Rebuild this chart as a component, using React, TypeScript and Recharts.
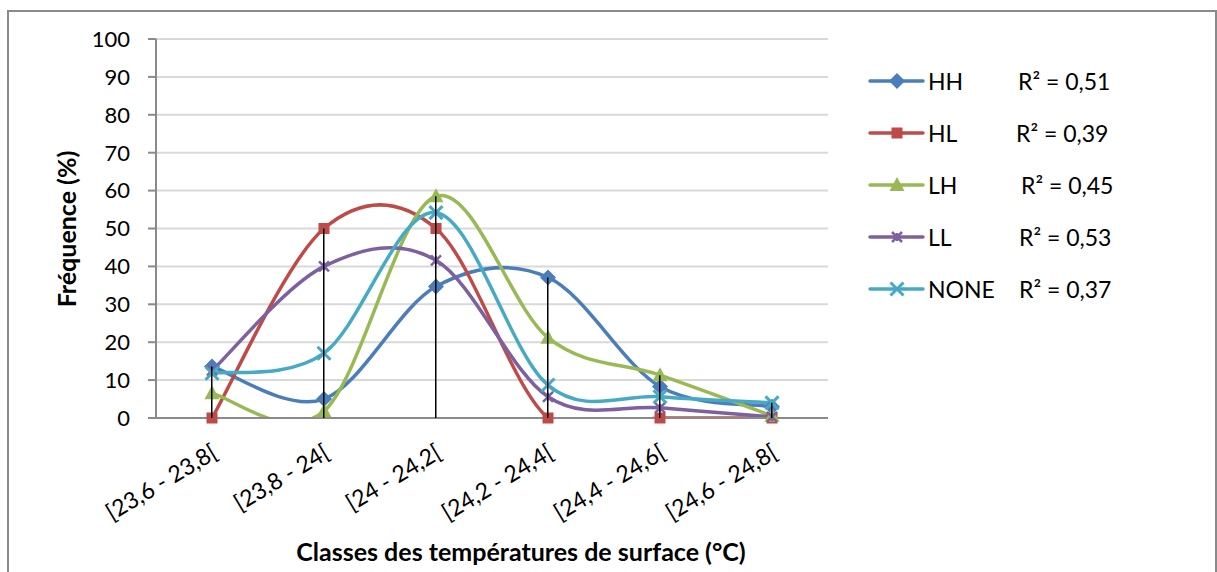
import React from "react";
import {
  ComposedChart,
  Line,
  Bar,
  XAxis,
  YAxis,
  CartesianGrid,
} from "recharts";

const categories = [
  "[23,6 - 23,8[",
  "[23,8 - 24[",
  "[24 - 24,2[",
  "[24,2 - 24,4[",
  "[24,4 - 24,6[",
  "[24,6 - 24,8[",
];
const hh = [13.6, 5.0, 34.7, 37.1, 8.3, 3.0];
const hl = [0, 50, 50, 0, 0, 0];
const lh = [6.5, 1.8, 58.5, 21.2, 11.3, 0.6];
const ll = [12.5, 40, 41.6, 5.6, 2.7, 0.3];
const none = [11.8, 17.1, 54.2, 8.7, 5.6, 4.0];
const yTicks = [0, 10, 20, 30, 40, 50, 60, 70, 80, 90, 100];

const series = [
  { key: "HH", values: hh, color: "#4A7EBB", shape: "diamond", r2: "0,51", r2x: 0 },
  { key: "HL", values: hl, color: "#BE4B48", shape: "square", r2: "0,39", r2x: -2 },
  { key: "LH", values: lh, color: "#98B954", shape: "triangle", r2: "0,45", r2x: 3 },
  { key: "LL", values: ll, color: "#7D60A0", shape: "star", r2: "0,53", r2x: 1 },
  { key: "NONE", values: none, color: "#46AAC5", shape: "x", r2: "0,37", r2x: 1 },
];

const data = categories.map((c, i) => {
  const row: any = { cat: c };
  series.forEach((s) => (row[s.key] = s.values[i]));
  row.drop = Math.max(...series.map((s) => s.values[i]));
  return row;
});

const FONT = "Lato, 'Open Sans', sans-serif";

// excel-like smoothed line (catmull-rom through the points)
const excelSmooth = (context: any) => {
  let pts: number[][] = [];
  return {
    areaStart() {},
    areaEnd() {},
    lineStart() {
      pts = [];
    },
    point(x: number, y: number) {
      pts.push([+x, +y]);
    },
    lineEnd() {
      const n = pts.length;
      if (!n) return;
      context.moveTo(pts[0][0], pts[0][1]);
      for (let i = 0; i < n - 1; i++) {
        const p0 = pts[Math.max(i - 1, 0)];
        const p1 = pts[i];
        const p2 = pts[i + 1];
        const p3 = pts[Math.min(i + 2, n - 1)];
        context.bezierCurveTo(
          p1[0] + (p2[0] - p0[0]) / 6,
          p1[1] + (p2[1] - p0[1]) / 6,
          p2[0] - (p3[0] - p1[0]) / 6,
          p2[1] - (p3[1] - p1[1]) / 6,
          p2[0],
          p2[1]
        );
      }
    },
  };
};

const Marker = ({ cx, cy, shape, color }: any) => {
  if (cx == null || cy == null) return null;
  if (shape === "diamond")
    return (
      <polygon
        points={`${cx},${cy - 8} ${cx + 8},${cy} ${cx},${cy + 8} ${cx - 8},${cy}`}
        fill={color}
      />
    );
  if (shape === "square")
    return <rect x={cx - 5.5} y={cy - 5.5} width={11} height={11} fill={color} />;
  if (shape === "triangle")
    return (
      <polygon
        points={`${cx},${cy - 8} ${cx + 7.5},${cy + 6} ${cx - 7.5},${cy + 6}`}
        fill={color}
      />
    );
  if (shape === "star")
    return (
      <g stroke={color} strokeWidth={2.5}>
        <line x1={cx - 5} y1={cy - 5} x2={cx + 5} y2={cy + 5} />
        <line x1={cx - 5} y1={cy + 5} x2={cx + 5} y2={cy - 5} />
        <line x1={cx} y1={cy - 4} x2={cx} y2={cy + 4} />
      </g>
    );
  return (
    <g stroke={color} strokeWidth={3}>
      <line x1={cx - 6.5} y1={cy - 6.5} x2={cx + 6.5} y2={cy + 6.5} />
      <line x1={cx - 6.5} y1={cy + 6.5} x2={cx + 6.5} y2={cy - 6.5} />
    </g>
  );
};

const XTick = ({ x, y, payload }: any) => (
  <g transform={`translate(${x},${y})`}>
    <text
      x={-14}
      y={37}
      textAnchor="end"
      transform="rotate(-31)"
      fontSize={23}
      fontFamily={FONT}
      fill="#000"
    >
      {payload.value}
    </text>
  </g>
);

const LegendBox = () => (
  <div
    style={{
      position: "absolute",
      left: 866,
      top: 55,
      width: 330,
      fontFamily: FONT,
      fontSize: 23,
      color: "#000",
    }}
  >
    {series.map((s) => (
      <div
        key={s.key}
        style={{ height: 52, display: "flex", alignItems: "center", position: "relative" }}
      >
        <svg width={60} height={20} style={{ display: "block" }}>
          <line x1={4} y1={10} x2={57} y2={10} stroke={s.color} strokeWidth={3.5} strokeLinecap="round" />
          <Marker cx={31} cy={10} shape={s.shape} color={s.color} />
        </svg>
        <span style={{ marginLeft: 2 }}>{s.key}</span>
        <span style={{ position: "absolute", left: 152 + s.r2x }}>R² = {s.r2}</span>
      </div>
    ))}
  </div>
);

export default function App() {
  return (
    <div
      style={{
        position: "absolute",
        left: 0,
        top: 0,
        width: 1217,
        height: 572,
        overflow: "hidden",
        background: "#fff",
      }}
    >
      <div
        style={{
          position: "absolute",
          left: 7,
          top: 10,
          width: 1206,
          height: 640,
          border: "2px solid #8a8a8a",
        }}
      />
      <div style={{ position: "absolute", left: 0, top: 0 }}>
        <ComposedChart
          width={1217}
          height={572}
          data={data}
          margin={{ top: 39, right: 389, left: 96, bottom: 54 }}
        >
          <CartesianGrid vertical={false} stroke="#d9d9d9" strokeWidth={2} />
          <XAxis
            dataKey="cat"
            tick={<XTick />}
            tickLine={false}
            tickSize={0}
            tickMargin={0}
            height={100}
            interval={0}
            axisLine={{ stroke: "#8a8a8a", strokeWidth: 2 }}
          />
          <YAxis
            domain={[0, 100]}
            allowDataOverflow
            ticks={yTicks}
            width={60}
            tickSize={8}
            tickMargin={18}
            tick={{ fontSize: 22, fontFamily: FONT, fill: "#000" }}
            tickLine={{ stroke: "#8a8a8a", strokeWidth: 2 }}
            axisLine={{ stroke: "#8a8a8a", strokeWidth: 2 }}
          />
          {/* unclipped copy of the value axis, only for the markers */}
          <YAxis yAxisId="dots" domain={[0, 100]} hide />
          {series.map((s) => (
            <Line
              key={s.key}
              dataKey={s.key}
              type={excelSmooth as any}
              stroke={s.color}
              strokeWidth={3.5}
              isAnimationActive={false}
              dot={false}
              activeDot={false}
            />
          ))}
          {series.map((s) => (
            <Line
              key={`${s.key}-dots`}
              yAxisId="dots"
              dataKey={s.key}
              stroke="none"
              isAnimationActive={false}
              legendType="none"
              dot={(p: any) => (
                <Marker key={`${s.key}-${p.index}`} cx={p.cx} cy={p.cy} shape={s.shape} color={s.color} />
              )}
              activeDot={false}
            />
          ))}
          <Bar dataKey="drop" barSize={1.5} fill="#000" isAnimationActive={false} zIndex={2000} />
        </ComposedChart>
      </div>
      <svg
        width={1217}
        height={572}
        style={{ position: "absolute", left: 0, top: 0, pointerEvents: "none" }}
      >
        <text
          x={76}
          y={229}
          textAnchor="middle"
          transform="rotate(-90, 76, 229)"
          fontSize={25}
          fontWeight="bold"
          fontFamily={FONT}
          fill="#000"
        >
          Fréquence (%)
        </text>
        <text
          x={521}
          y={561}
          textAnchor="middle"
          fontSize={25}
          fontWeight="bold"
          fontFamily={FONT}
          fill="#000"
        >
          Classes des températures de surface (°C)
        </text>
      </svg>
      <LegendBox />
    </div>
  );
}
